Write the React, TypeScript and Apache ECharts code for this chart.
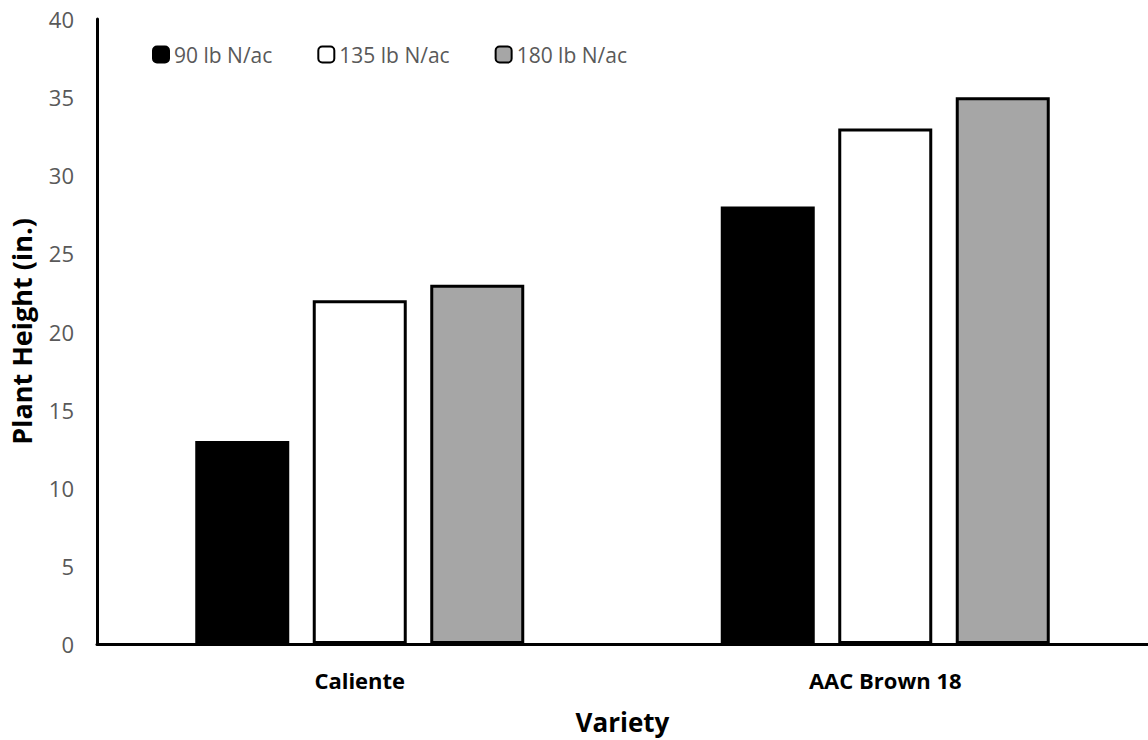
import React, { useEffect, useRef } from "react";
import * as echarts from "echarts";

const categories = ["Caliente", "AAC Brown 18"];
const seriesNames = ["90 lb N/ac", "135 lb N/ac", "180 lb N/ac"];
const n90 = [13, 28];
const n135 = [22, 33];
const n180 = [23, 35];
const colors = ["#000000", "#ffffff", "#a6a6a6"];

const FONT = "'Open Sans', sans-serif";

export default function App() {
  const ref = useRef<HTMLDivElement>(null);
  useEffect(() => {
    if (!ref.current) return;
    const chart = echarts.init(ref.current, undefined, { renderer: "svg" });
    const data = [n90, n135, n180];
    chart.setOption({
      animation: false,
      backgroundColor: "#ffffff",
      textStyle: { fontFamily: FONT },
      grid: { left: 97, right: -12, top: 19, bottom: 92, containLabel: false },
      legend: {
        left: 147,
        top: 39,
        itemWidth: 16,
        itemHeight: 16,
        itemGap: 45,
        icon: "roundRect",
        textStyle: { fontFamily: FONT, fontSize: 21, color: "#595959" },
        data: seriesNames,
      },
      xAxis: {
        type: "category",
        data: categories,
        name: "Variety",
        nameLocation: "middle",
        nameGap: 65,
        nameTextStyle: { fontFamily: FONT, fontSize: 26, fontWeight: "bold", color: "#000" },
        axisLine: { lineStyle: { color: "#000", width: 3 } },
        axisTick: { show: false },
        axisLabel: { margin: 25, fontFamily: FONT, fontSize: 22, fontWeight: "bold", color: "#000" },
      },
      yAxis: {
        type: "value",
        min: 0,
        max: 40,
        interval: 5,
        name: "Plant Height (in.)",
        nameLocation: "middle",
        nameGap: 62,
        nameTextStyle: { fontFamily: FONT, fontSize: 27, fontWeight: "bold", color: "#000" },
        axisLine: { show: true, lineStyle: { color: "#000", width: 3 } },
        axisTick: { show: false },
        splitLine: { show: false },
        axisLabel: { margin: 23, fontFamily: FONT, fontSize: 22, color: "#595959" },
      },
      series: seriesNames.map((name, i) => ({
        name,
        type: "bar",
        data: data[i],
        barWidth: 94,
        barGap: "25%",
        itemStyle: { color: colors[i], borderColor: "#000", borderWidth: 3 },
      })),
    });
    return () => chart.dispose();
  }, []);
  return (
    <div
      ref={ref}
      style={{ position: "fixed", left: 0, top: 0, width: 1148, height: 740, background: "#fff" }}
    />
  );
}
